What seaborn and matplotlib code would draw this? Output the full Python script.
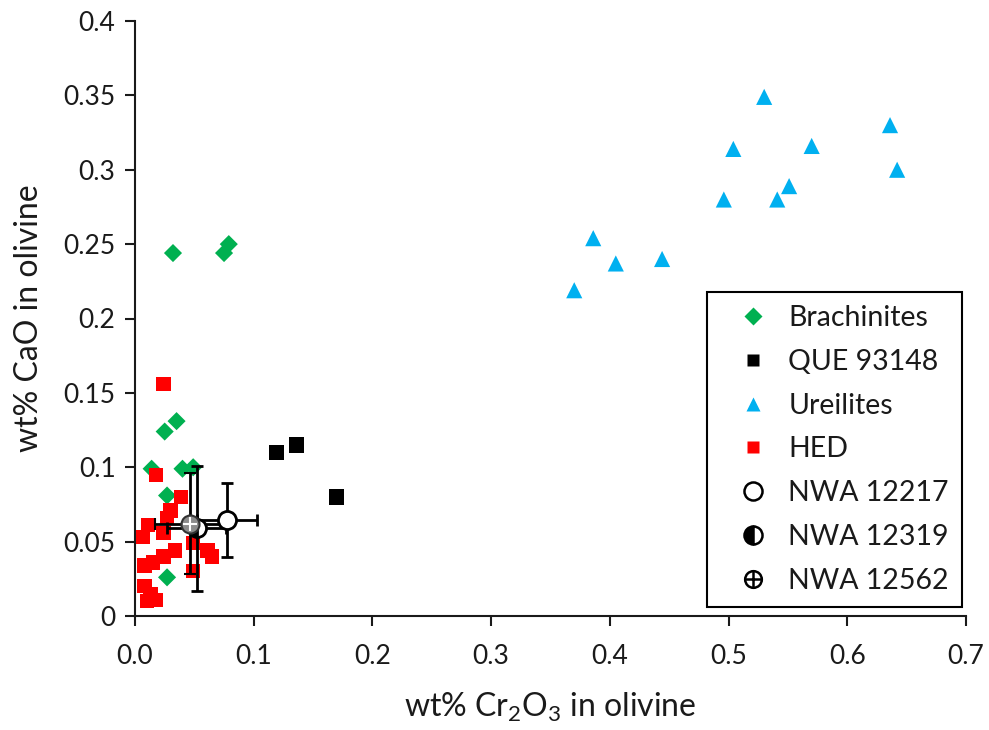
import matplotlib
matplotlib.use("Agg")
import matplotlib.pyplot as plt
import seaborn as sns
import pandas as pd
from matplotlib.lines import Line2D
from matplotlib.legend_handler import HandlerTuple

# %% DATA ──────────────────────────────────────────────────────────────────
brach_cr = [0.032, 0.075, 0.079, 0.025, 0.035, 0.014, 0.040, 0.049, 0.027, 0.027]
brach_ca = [0.244, 0.244, 0.250, 0.124, 0.131, 0.099, 0.099, 0.100, 0.081, 0.026]

que_cr = [0.119, 0.136, 0.170]
que_ca = [0.110, 0.115, 0.080]

ureil_cr = [0.530, 0.636, 0.504, 0.570, 0.642, 0.551, 0.496, 0.541, 0.386, 0.405, 0.444, 0.370]
ureil_ca = [0.349, 0.330, 0.314, 0.316, 0.300, 0.289, 0.280, 0.280, 0.254, 0.237, 0.240, 0.219]

hed_cr = [0.024, 0.018, 0.039, 0.030, 0.027, 0.011, 0.024, 0.007, 0.034, 0.024,
          0.015, 0.008, 0.049, 0.061, 0.065, 0.049, 0.008, 0.013, 0.018, 0.010]
hed_ca = [0.156, 0.095, 0.080, 0.071, 0.066, 0.061, 0.056, 0.053, 0.044, 0.040,
          0.036, 0.034, 0.049, 0.044, 0.040, 0.030, 0.020, 0.015, 0.011, 0.010]

nwa_names = ["NWA 12217", "NWA 12319", "NWA 12562"]
nwa_cr = [0.0775, 0.052, 0.046]
nwa_ca = [0.0645, 0.059, 0.062]
nwa_cr_err = [0.025, 0.025, 0.029]
nwa_ca_err = [0.025, 0.042, 0.034]

x_ticks = [0.0, 0.1, 0.2, 0.3, 0.4, 0.5, 0.6, 0.7]
y_ticks = [0, 0.05, 0.1, 0.15, 0.2, 0.25, 0.3, 0.35, 0.4]
y_tick_labels = ["0", "0.05", "0.1", "0.15", "0.2", "0.25", "0.3", "0.35", "0.4"]

# %% STYLE ─────────────────────────────────────────────────────────────────
sns.set_style("ticks")
plt.rcParams["font.family"] = ["Lato", "DejaVu Sans"]
plt.rcParams["mathtext.fontset"] = "custom"
plt.rcParams["mathtext.rm"] = "Lato"

GREEN, BLACK, BLUE, RED = "#00B050", "#000000", "#00B0F0", "#FF0000"
TXT = "#1a1a1a"

fig = plt.figure(figsize=(9.89, 7.30), dpi=100)
ax = fig.add_axes([135 / 989, 1 - 616 / 730, 831 / 989, 595 / 730])

groups = [
    ("Brachinites", brach_cr, brach_ca, "D", GREEN, 85),
    ("QUE 93148", que_cr, que_ca, "s", BLACK, 120),
    ("Ureilites", ureil_cr, ureil_ca, "^", BLUE, 135),
    ("HED", hed_cr, hed_ca, "s", RED, 105),
]
for name, xs, ys, mk, col, sz in groups:
    df = pd.DataFrame({"cr": xs, "ca": ys})
    sns.scatterplot(data=df, x="cr", y="ca", marker=mk, color=col, s=sz,
                    edgecolor="none", ax=ax, zorder=3, legend=False)

# NWA samples with error bars
eb_kw = dict(ecolor="black", elinewidth=2, capsize=4, capthick=2, linestyle="none", zorder=4)
ax.errorbar(nwa_cr[0], nwa_ca[0], xerr=nwa_cr_err[0], yerr=nwa_ca_err[0], fmt="o",
            ms=13, mfc="white", mec="black", mew=2, **eb_kw)
ax.errorbar(nwa_cr[1], nwa_ca[1], xerr=nwa_cr_err[1], yerr=nwa_ca_err[1], fmt="o",
            ms=13, fillstyle="left", mfc="black", mfcalt="white", mec="black", mew=2, **eb_kw)
ax.errorbar(nwa_cr[2], nwa_ca[2], xerr=nwa_cr_err[2], yerr=nwa_ca_err[2], fmt="o",
            ms=13, mfc="#8c8c8c", mec="#333333", mew=1.5, **eb_kw)
ax.plot(nwa_cr[2], nwa_ca[2], marker="+", ms=10, mew=1.5, color="white", zorder=5, ls="none")

# %% AXES ──────────────────────────────────────────────────────────────────
ax.set_xlim(0, 0.7)
ax.set_ylim(0, 0.4)
ax.set_xticks(x_ticks)
ax.set_xticklabels([f"{t:.1f}" for t in x_ticks])
ax.set_yticks(y_ticks)
ax.set_yticklabels(y_tick_labels)
ax.tick_params(axis="both", direction="out", length=7, width=1.5, labelsize=19,
               colors=TXT, labelcolor=TXT, pad=7)
ax.tick_params(axis="x", pad=13)
sns.despine(ax=ax)
for sp in ["left", "bottom"]:
    ax.spines[sp].set_linewidth(1.5)
    ax.spines[sp].set_color(TXT)
ax.set_xlabel(r"wt% Cr$_2$O$_3$ in olivine", fontsize=23, labelpad=16, color=TXT)
ax.set_ylabel("wt% CaO in olivine", fontsize=23, labelpad=14, color=TXT)

# %% LEGEND ────────────────────────────────────────────────────────────────
h = [
    Line2D([], [], marker="D", color=GREEN, ls="none", ms=9, mec="none"),
    Line2D([], [], marker="s", color=BLACK, ls="none", ms=9, mec="none"),
    Line2D([], [], marker="^", color=BLUE, ls="none", ms=10, mec="none"),
    Line2D([], [], marker="s", color=RED, ls="none", ms=9, mec="none"),
    Line2D([], [], marker="o", mfc="white", mec="black", mew=1.8, ls="none", ms=13),
    Line2D([], [], marker="o", fillstyle="left", mfc="black", mfcalt="white", mec="black",
           mew=1.8, ls="none", ms=13),
    (Line2D([], [], marker="o", mfc="white", mec="black", mew=1.8, ls="none", ms=12),
     Line2D([], [], marker="+", color="black", mew=1.8, ls="none", ms=12)),
]
labels = ["Brachinites", "QUE 93148", "Ureilites", "HED"] + nwa_names
leg = ax.legend(h, labels, loc="lower right", bbox_to_anchor=(0.995, 0.015),
                borderaxespad=0, fontsize=20.5, labelspacing=0.63, handletextpad=0.1,
                handlelength=2.3, borderpad=0.45, fancybox=False, framealpha=1,
                edgecolor="black", labelcolor=TXT,
                handler_map={tuple: HandlerTuple(ndivide=1, pad=0)})
leg.get_frame().set_linewidth(1.5)

fig.savefig("out.png", dpi=100)
